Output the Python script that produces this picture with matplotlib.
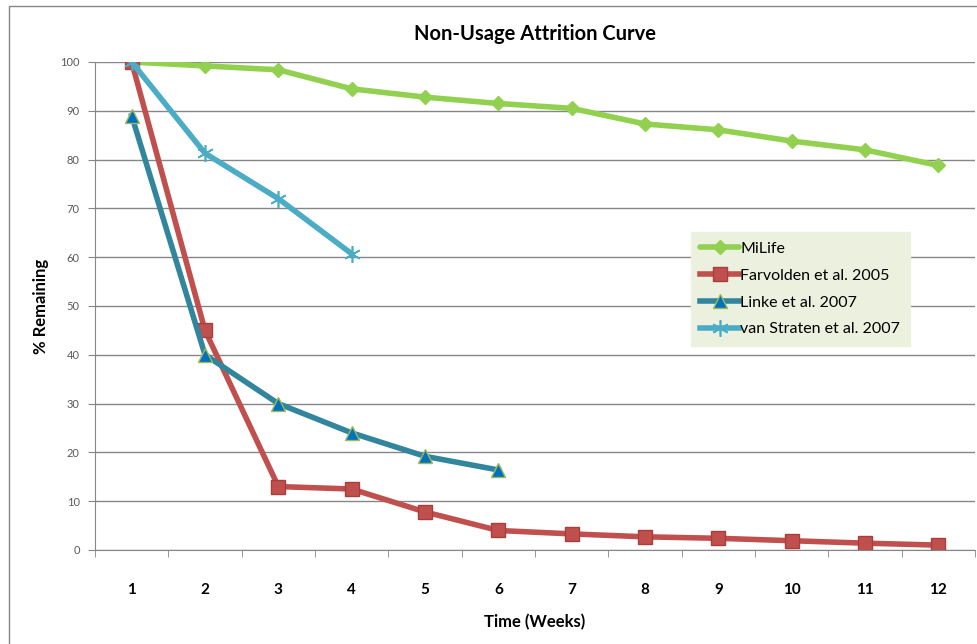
import numpy as np
import matplotlib.pyplot as plt
from matplotlib.patches import Rectangle

# Data
weeks = list(range(1, 13))
milife = [100, 99.2, 98.4, 94.5, 92.8, 91.5, 90.5, 87.3, 86.1, 83.8, 82.0, 78.8]
farvolden = [100, 45, 13, 12.5, 7.8, 4.0, 3.3, 2.7, 2.4, 1.9, 1.4, 1.0]
linke = [89, 40, 30, 24, 19.2, 16.4]
van_straten = [100, 81.3, 72, 60.7]
y_ticks = list(range(0, 101, 10))

plt.rcParams['font.family'] = ['Lato', 'DejaVu Sans']

fig = plt.figure(figsize=(9.78, 6.44), dpi=100)
fig.patch.set_facecolor('white')

# outer chart border
fig.patches.append(Rectangle((9 / 978, -0.05), 1.0, 1 - 6 / 644 + 0.05,
                             transform=fig.transFigure, fill=False,
                             edgecolor='#868686', linewidth=1.0))

ax = fig.add_axes([95 / 978, 94 / 644, 880 / 978, 488 / 644])

ax.plot(weeks, milife, color='#92D050', lw=4, marker='D', ms=7,
        mfc='#92D050', mec='#92D050', label='MiLife', solid_capstyle='round')
ax.plot(weeks, farvolden, color='#C0504D', lw=4, marker='s', ms=10,
        mfc='#C0504D', mec='#A83E3B', label='Farvolden et al. 2005')
ax.plot(weeks[:len(linke)], linke, color='#31859C', lw=4, marker='^', ms=10,
        mfc='#0070C0', mec='#9BBB59', label='Linke et al. 2007')
ax.plot(weeks[:len(van_straten)], van_straten, color='#4BACC6', lw=4,
        marker=(6, 2, 0), ms=12, mec='#4BACC6', mew=1.2,
        label='van Straten et al. 2007')

ax.set_xlim(0.5, 12.5)
ax.set_ylim(0, 100)
ax.set_yticks(y_ticks)
ax.set_yticklabels([str(v) for v in y_ticks], fontsize=8, color='#595959')
ax.set_xticks(weeks)
ax.set_xticklabels([str(w) for w in weeks], fontsize=11, fontweight='bold')
ax.set_xticks(np.arange(0.5, 13, 1), minor=True)
ax.tick_params(axis='x', which='major', length=0, pad=24)
ax.tick_params(axis='x', which='minor', length=5, color='#868686')
ax.tick_params(axis='y', length=5, color='#868686', pad=6)

ax.grid(axis='y', color='#868686', lw=1)
ax.set_axisbelow(True)
for side in ('top', 'right'):
    ax.spines[side].set_visible(False)
for side in ('left', 'bottom'):
    ax.spines[side].set_color('#868686')

ax.set_title('Non-Usage Attrition Curve', fontsize=14.5, fontweight='bold', pad=16)
ax.set_xlabel('Time (Weeks)', fontsize=12, fontweight='bold', labelpad=12)
ax.set_ylabel('% Remaining', fontsize=12, fontweight='bold', labelpad=8)

leg = ax.legend(loc='upper left', bbox_to_anchor=(0.677, 0.652), fontsize=11.5,
                frameon=True, fancybox=False, handlelength=2.4,
                handletextpad=0.1, borderpad=0.6, labelspacing=0.8,
                borderaxespad=0)
leg.get_frame().set_facecolor('#EBF1DE')
leg.get_frame().set_edgecolor('#EBF1DE')
leg.get_frame().set_alpha(1)
for h in leg.legend_handles:
    h.set_linewidth(4)

fig.savefig('out.png', dpi=100)
